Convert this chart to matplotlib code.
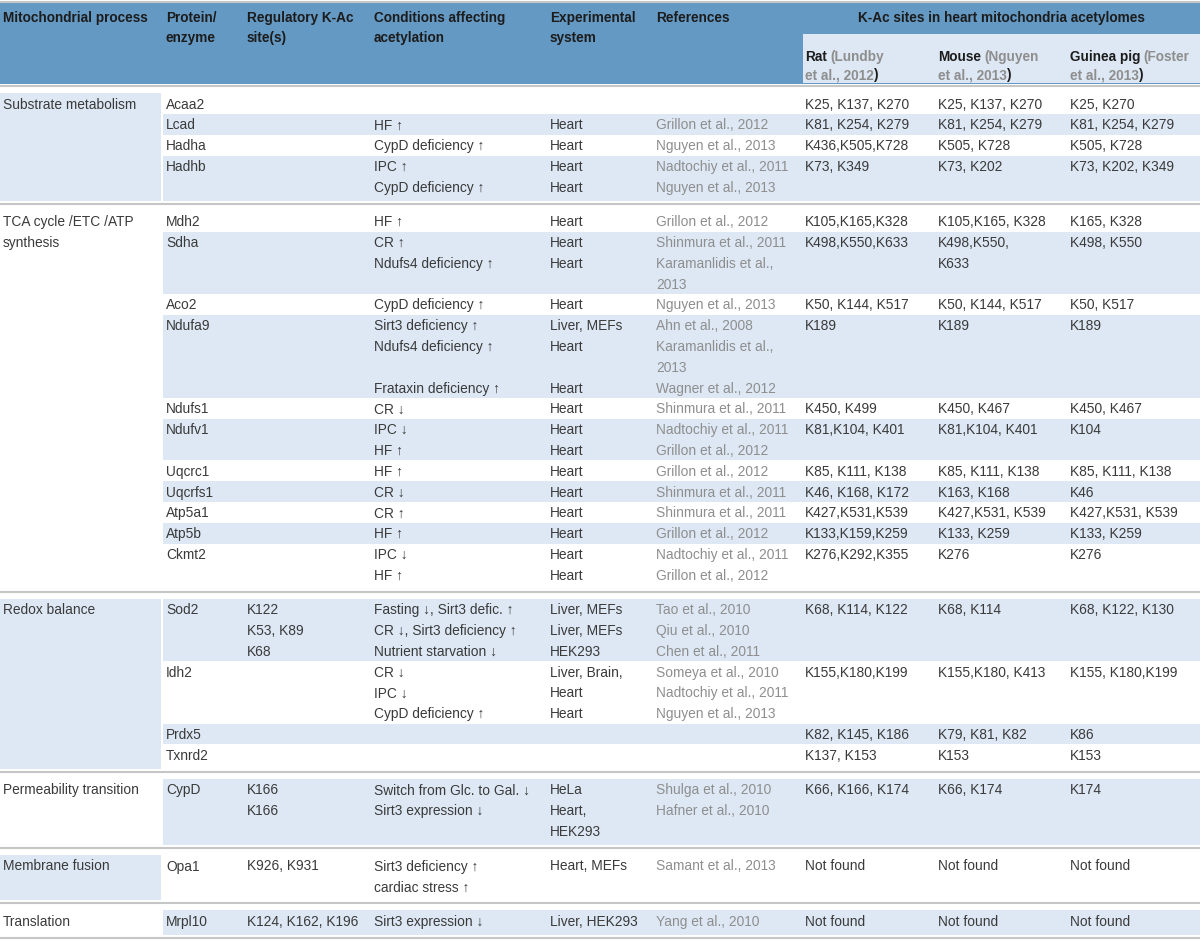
"""
plot.py
Table: mitochondrial protein acetylation sites (heart acetylomes).
"""

import matplotlib.pyplot as plt
from matplotlib.patches import Rectangle

plt.rcParams["font.family"] = ["Liberation Sans", "DejaVu Sans"]

# ── Data ──────────────────────────────────────────────────────────────────────
HEADERS = ["Mitochondrial process", "Protein/\nenzyme", "Regulatory K-Ac\nsite(s)",
           "Conditions affecting\nacetylation", "Experimental\nsystem", "References"]
SPAN_HEADER = "K-Ac sites in heart mitochondria acetylomes"
SPECIES = ["Rat", "Mouse", "Guinea pig"]
SPECIES_REF = [("Lundby", "2012"), ("Nguyen", "2013"), ("Foster", "2013")]

SECTIONS = ["Substrate metabolism", "TCA cycle /ETC /ATP\nsynthesis", "Redox balance",
            "Permeability transition", "Membrane fusion", "Translation"]

row_section = [0, 0, 0, 0,
               1, 1, 1, 1, 1, 1, 1, 1, 1, 1, 1,
               2, 2, 2, 2,
               3, 4, 5]

protein = ["Acaa2", "Lcad", "Hadha", "Hadhb",
           "Mdh2", "Sdha", "Aco2", "Ndufa9", "Ndufs1", "Ndufv1", "Uqcrc1", "Uqcrfs1",
           "Atp5a1", "Atp5b", "Ckmt2",
           "Sod2", "Idh2", "Prdx5", "Txnrd2",
           "CypD", "Opa1", "Mrpl10"]

regulatory = ["", "", "", "",
              "", "", "", "", "", "", "", "", "", "", "",
              "K122\nK53, K89\nK68", "", "", "",
              "K166\nK166", "K926, K931", "K124, K162, K196"]

conditions = ["", "HF ↑", "CypD deficiency ↑", "IPC ↑\nCypD deficiency ↑",
              "HF ↑", "CR ↑\nNdufs4 deficiency ↑", "CypD deficiency ↑",
              "Sirt3 deficiency ↑\nNdufs4 deficiency ↑\n\nFrataxin deficiency ↑",
              "CR ↓", "IPC ↓\nHF ↑", "HF ↑", "CR ↓", "CR ↑", "HF ↑", "IPC ↓\nHF ↑",
              "Fasting ↓, Sirt3 defic. ↑\nCR ↓, Sirt3 deficiency ↑\nNutrient starvation ↓",
              "CR ↓\nIPC ↓\nCypD deficiency ↑", "", "",
              "Switch from Glc. to Gal. ↓\nSirt3 expression ↓",
              "Sirt3 deficiency ↑\ncardiac stress ↑", "Sirt3 expression ↓"]

systems = ["", "Heart", "Heart", "Heart\nHeart",
           "Heart", "Heart\nHeart", "Heart", "Liver, MEFs\nHeart\n\nHeart", "Heart",
           "Heart\nHeart", "Heart", "Heart", "Heart", "Heart", "Heart\nHeart",
           "Liver, MEFs\nLiver, MEFs\nHEK293", "Liver, Brain,\nHeart\nHeart", "", "",
           "HeLa\nHeart,\nHEK293", "Heart, MEFs", "Liver, HEK293"]

references = ["", "Grillon et al., 2012", "Nguyen et al., 2013",
              "Nadtochiy et al., 2011\nNguyen et al., 2013",
              "Grillon et al., 2012", "Shinmura et al., 2011\nKaramanlidis et al.,\n2013",
              "Nguyen et al., 2013",
              "Ahn et al., 2008\nKaramanlidis et al.,\n2013\nWagner et al., 2012",
              "Shinmura et al., 2011", "Nadtochiy et al., 2011\nGrillon et al., 2012",
              "Grillon et al., 2012", "Shinmura et al., 2011", "Shinmura et al., 2011",
              "Grillon et al., 2012", "Nadtochiy et al., 2011\nGrillon et al., 2012",
              "Tao et al., 2010\nQiu et al., 2010\nChen et al., 2011",
              "Someya et al., 2010\nNadtochiy et al., 2011\nNguyen et al., 2013", "", "",
              "Shulga et al., 2010\nHafner et al., 2010", "Samant et al., 2013",
              "Yang et al., 2010"]

rat = ["K25, K137, K270", "K81, K254, K279", "K436,K505,K728", "K73, K349",
       "K105,K165,K328", "K498,K550,K633", "K50, K144, K517", "K189", "K450, K499",
       "K81,K104, K401", "K85, K111, K138", "K46, K168, K172", "K427,K531,K539",
       "K133,K159,K259", "K276,K292,K355",
       "K68, K114, K122", "K155,K180,K199", "K82, K145, K186", "K137, K153",
       "K66, K166, K174", "Not found", "Not found"]

mouse = ["K25, K137, K270", "K81, K254, K279", "K505, K728", "K73, K202",
         "K105,K165, K328", "K498,K550,\nK633", "K50, K144, K517", "K189", "K450, K467",
         "K81,K104, K401", "K85, K111, K138", "K163, K168", "K427,K531, K539",
         "K133, K259", "K276",
         "K68, K114", "K155,K180, K413", "K79, K81, K82", "K153",
         "K66, K174", "Not found", "Not found"]

guinea_pig = ["K25, K270", "K81, K254, K279", "K505, K728", "K73, K202, K349",
              "K165, K328", "K498, K550", "K50, K517", "K189", "K450, K467",
              "K104", "K85, K111, K138", "K46", "K427,K531, K539",
              "K133, K259", "K276",
              "K68, K122, K130", "K155, K180,K199", "K86", "K153",
              "K174", "Not found", "Not found"]

# ── Layout / style ────────────────────────────────────────────────────────────
W, H = 1200, 941
COL_X = [3, 166, 247, 374, 550, 656, 805, 938, 1070]
LINE = 20.8
HEAD_BLUE = "#6499c4"
LIGHT = "#dde8f4"
RULE = "#c6c6c6"
INK = "#3a3a3a"
GREY = "#8e8e8e"
FS = 9.9
FS_HEAD = 9.8

body_cols = [protein, regulatory, conditions, systems, references, rat, mouse, guinea_pig]
body_colors = [INK, INK, INK, INK, GREY, INK, INK, INK]

fig = plt.figure(figsize=(W / 100, H / 100), dpi=100)
ax = fig.add_axes([0, 0, 1, 1])
ax.set_xlim(0, W)
ax.set_ylim(H, 0)
ax.axis("off")


def put(x, y_mid, txt, **kw):
    # y_mid = visual middle of capitals; draw on baseline
    return ax.text(x, y_mid + 5, txt, va="baseline", ha=kw.pop("ha", "left"),
                   fontsize=kw.pop("fontsize", FS), **kw)


# ── Header ────────────────────────────────────────────────────────────────────
ax.hlines(1.5, 0, W, color=RULE, lw=1.5)
ax.add_patch(Rectangle((0, 3), W, 81, color=HEAD_BLUE, lw=0))
ax.add_patch(Rectangle((803, 34), W - 803, 49, color=LIGHT, lw=0))
ax.hlines(86, 0, W, color=RULE, lw=1.5)

for x, lab in zip(COL_X, HEADERS):
    for k, part in enumerate(lab.split("\n")):
        put(x, 17 + 20 * k, part, fontsize=FS_HEAD, fontweight="bold", color="#1c1c1c")
put(1001, 17, SPAN_HEADER, ha="center", fontsize=FS_HEAD, fontweight="bold",
    color="#1c1c1c")

for x, sp, (author, year) in zip(COL_X[6:], SPECIES, SPECIES_REF):
    t1 = put(x, 56, sp, fontsize=FS_HEAD, fontweight="bold", color="#1c1c1c")
    ax.annotate("(" + author, xy=(1, 0), xycoords=t1, xytext=(2.5, 0),
                textcoords="offset points", va="bottom", ha="left",
                fontsize=FS_HEAD, fontweight="bold", color=GREY)
    t2 = put(x, 74, "et al., " + year, fontsize=FS_HEAD, fontweight="bold", color=GREY)
    ax.annotate(")", xy=(1, 0), xycoords=t2, xytext=(0.3, 0),
                textcoords="offset points", va="bottom", ha="left",
                fontsize=FS_HEAD, fontweight="bold", color="#1c1c1c")

# ── Body ──────────────────────────────────────────────────────────────────────
sep = 86
row_counter = 0
for s_idx, sec_name in enumerate(SECTIONS):
    rows = [i for i, s in enumerate(row_section) if s == s_idx]
    nlines = [max(len(col[i].split("\n")) for col in body_cols) for i in rows]
    next_sep = sep + (sum(nlines) - 1) * LINE + 34.5

    if s_idx % 2 == 0:
        ax.add_patch(Rectangle((0, sep + 7), 161, next_sep - 3 - (sep + 7),
                               color=LIGHT, lw=0))
    for k, part in enumerate(sec_name.split("\n")):
        put(COL_X[0], sep + 17.5 + k * LINE, part, color=INK)

    y_line = sep + 17.5
    for j, (i, n) in enumerate(zip(rows, nlines)):
        top = y_line - 10.4
        bottom = y_line + (n - 1) * LINE + 10.4
        if j == len(rows) - 1:
            bottom = next_sep - 3
        if row_counter % 2 == 1:
            ax.add_patch(Rectangle((163, top), W - 163, bottom - top, color=LIGHT, lw=0))
        for x, col, c in zip(COL_X[1:], body_cols, body_colors):
            for k, part in enumerate(col[i].split("\n")):
                if part:
                    put(x, y_line + k * LINE, part, color=c)
        y_line += n * LINE
        row_counter += 1

    ax.hlines(next_sep, 0, W, color=RULE, lw=1.5)
    sep = next_sep

fig.savefig("out.png", dpi=100)
